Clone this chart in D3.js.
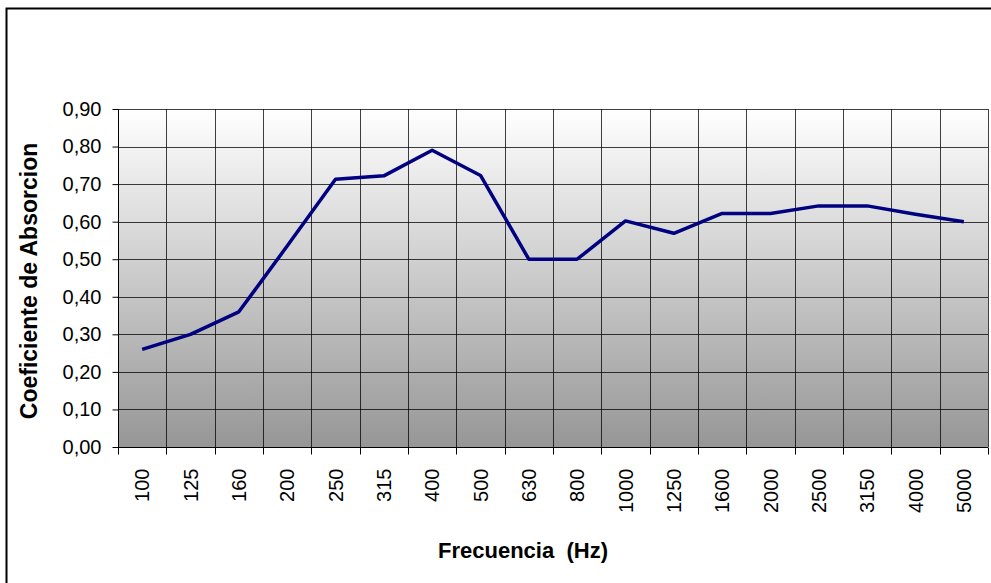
<!DOCTYPE html>
<html>
<head>
<meta charset="utf-8">
<script src="https://cdn.jsdelivr.net/npm/d3@7"></script>
<style>
  body { margin: 0; background: #fff; }
  svg { display: block; font-family: "Liberation Sans", Arial, sans-serif; }
</style>
</head>
<body>
<div id="chart"></div>
<script>
// data
var frequencies = ["100","125","160","200","250","315","400","500","630","800",
                   "1000","1250","1600","2000","2500","3150","4000","5000"];
var absorption = [0.26,0.30,0.36,0.535,0.713,0.722,0.79,0.723,0.50,0.50,
                  0.602,0.569,0.622,0.622,0.642,0.642,0.62,0.60];
var yTicks = [0,0.1,0.2,0.3,0.4,0.5,0.6,0.7,0.8,0.9];

var W = 991, H = 583;
var plotL = 118, plotR = 988, plotT = 109, plotB = 447;

var svg = d3.select("#chart").append("svg").attr("width", W).attr("height", H);

// outer frame (runs off right / bottom edge)
svg.append("rect")
  .attr("x", 6.5).attr("y", 8.5)
  .attr("width", W + 10).attr("height", H + 10)
  .attr("fill", "#fff").attr("stroke", "#000").attr("stroke-width", 2);

var x = d3.scaleBand().domain(frequencies).range([plotL, plotR]).padding(0);
var y = d3.scaleLinear().domain([0, 0.9]).range([plotB, plotT]);

// plot background gradient
var grad = svg.append("defs").append("linearGradient")
  .attr("id", "bg").attr("x1", 0).attr("y1", 0).attr("x2", 0).attr("y2", 1);
grad.append("stop").attr("offset", "0%").attr("stop-color", "#ffffff");
grad.append("stop").attr("offset", "100%").attr("stop-color", "#969696");

svg.append("rect")
  .attr("x", plotL).attr("y", plotT)
  .attr("width", plotR - plotL).attr("height", plotB - plotT)
  .attr("fill", "url(#bg)");

// grid
var grid = svg.append("g").attr("stroke", "#000").attr("stroke-opacity", 0.75).attr("stroke-width", 1);
grid.selectAll("line.h").data(yTicks).enter().append("line")
  .attr("x1", plotL).attr("x2", plotR)
  .attr("y1", function(d) { return Math.round(y(d)) + 0.5; })
  .attr("y2", function(d) { return Math.round(y(d)) + 0.5; });
var bounds = frequencies.map(function(f) { return x(f); }).concat([plotR]);
grid.selectAll("line.v").data(bounds).enter().append("line")
  .attr("x1", function(d) { return Math.round(d) + 0.5; })
  .attr("x2", function(d) { return Math.round(d) + 0.5; })
  .attr("y1", plotT).attr("y2", plotB);

// y axis
var yAxis = svg.append("g")
  .attr("transform", "translate(" + (plotL + 0.5) + ",0)")
  .call(d3.axisLeft(y).tickValues(yTicks).tickSize(6).tickPadding(11)
    .tickFormat(function(d) { return d3.format(".2f")(d).replace(".", ","); }));
yAxis.select(".domain").remove();
yAxis.selectAll("text").attr("font-size", 20).attr("fill", "#000")
  .attr("font-family", "Liberation Sans, Arial, sans-serif");
yAxis.selectAll("line").attr("stroke", "#000");
yAxis.append("line").attr("x1", 0).attr("x2", 0).attr("y1", plotT).attr("y2", plotB).attr("stroke", "#000");

// x axis: ticks on category boundaries, labels at centres
var xg = svg.append("g").attr("transform", "translate(0," + (plotB + 0.5) + ")");
xg.append("line").attr("x1", plotL).attr("x2", plotR).attr("stroke", "#000");
xg.selectAll("line.t").data(bounds).enter().append("line")
  .attr("x1", function(d) { return Math.round(d) + 0.5; })
  .attr("x2", function(d) { return Math.round(d) + 0.5; })
  .attr("y1", 0).attr("y2", 7).attr("stroke", "#000");
xg.selectAll("text").data(frequencies).enter().append("text")
  .attr("transform", function(d) {
    return "translate(" + (x(d) + x.bandwidth() / 2) + ",21) rotate(-90)";
  })
  .attr("text-anchor", "end")
  .attr("dy", "0.36em")
  .attr("font-size", 20)
  .text(function(d) { return d; });

// line
var line = d3.line()
  .x(function(d, i) { return x(frequencies[i]) + x.bandwidth() / 2; })
  .y(function(d) { return y(d); });
svg.append("path")
  .datum(absorption)
  .attr("d", line)
  .attr("fill", "none")
  .attr("stroke", "#000080")
  .attr("stroke-width", 3.5)
  .attr("stroke-linejoin", "round");

// titles
svg.append("text")
  .attr("x", 523).attr("y", 558)
  .attr("text-anchor", "middle")
  .attr("font-size", 22).attr("font-weight", "bold")
  .style("white-space", "pre")
  .text("Frecuencia  (Hz)");

svg.append("text")
  .attr("transform", "translate(37,281) rotate(-90)")
  .attr("text-anchor", "middle")
  .attr("font-size", 23).attr("font-weight", "bold")
  .text("Coeficiente de Absorcion");
</script>
</body>
</html>
